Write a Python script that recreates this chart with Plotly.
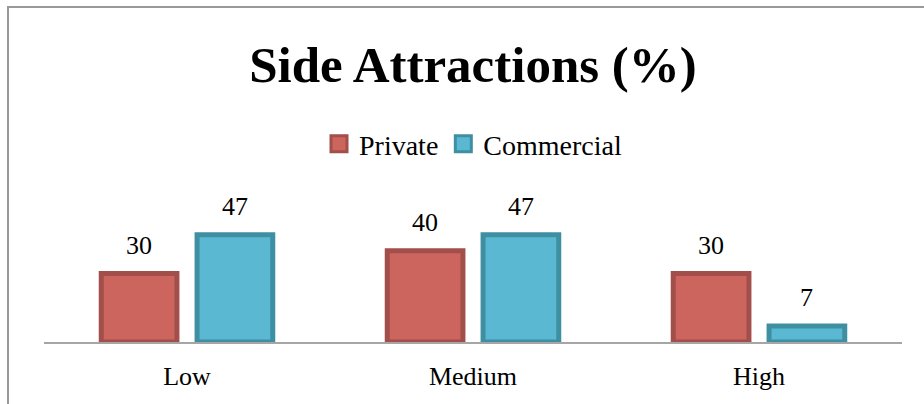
import plotly.graph_objects as go

# Chart data
categories = ["Low", "Medium", "High"]
private_vals = [30, 40, 30]
commercial_vals = [47, 47, 7]
series_names = ["Private", "Commercial"]

# Styling
fills = ["#CD655F", "#5BB8D2"]
borders = ["#A24E4A", "#3F8FA3"]
FONT = "Liberation Serif"
BARGAP = 0.33
BARGROUPGAP = 0.21
W, H = 924, 404
ML, MR, MT, MB = 44, 22, 205, 62
YMAX = 60

fig = go.Figure()
for name, vals, fc, bc in zip(series_names, [private_vals, commercial_vals], fills, borders):
    fig.add_trace(go.Bar(
        x=categories, y=vals, name=name, showlegend=False,
        marker=dict(color=fc, line=dict(color=bc, width=5)),
        hoverinfo="x+y",
    ))
    # legend entry with a larger swatch
    fig.add_trace(go.Scatter(
        x=[None], y=[None], mode="markers", name=name,
        marker=dict(symbol="square", size=16, color=fc, line=dict(color=bc, width=3)),
    ))

# value labels above each bar
offset = (1 - BARGAP) / 4
annotations = []
for s, vals in enumerate([private_vals, commercial_vals]):
    for i, v in enumerate(vals):
        annotations.append(dict(
            x=i + (-offset if s == 0 else offset), y=v, xref="x", yref="y",
            text=str(v), showarrow=False, yanchor="bottom", yshift=12,
            font=dict(family=FONT, size=26, color="#000000"),
        ))

plot_h = H - MT - MB
plot_w = W - ML - MR

fig.update_layout(
    width=W, height=H,
    margin=dict(l=ML, r=MR, t=MT, b=MB, pad=0),
    paper_bgcolor="white", plot_bgcolor="white",
    barmode="group", bargap=BARGAP, bargroupgap=BARGROUPGAP,
    title=dict(
        text="<b>Side Attractions (%)</b>",
        font=dict(family=FONT, size=51, color="#000000"),
        x=(ML + plot_w / 2) / W, xanchor="center",
        y=1 - 64 / H, yanchor="middle", yref="container",
    ),
    legend=dict(
        orientation="h", x=0.5, xanchor="center",
        y=(H - MB - 144) / plot_h, yanchor="middle",
        font=dict(family=FONT, size=28, color="#000000"),
        itemsizing="trace", itemwidth=30, tracegroupgap=0,
        bgcolor="rgba(0,0,0,0)",
    ),
    xaxis=dict(
        showline=True, linecolor="#A6A6A6", linewidth=2,
        ticks="", showgrid=False, zeroline=False,
        tickfont=dict(family=FONT, size=26, color="#000000"),
        ticklabelstandoff=10,
    ),
    yaxis=dict(range=[0, YMAX], visible=False, showgrid=False, zeroline=False),
    annotations=annotations,
    shapes=[dict(
        type="rect", xref="paper", yref="paper",
        x0=(8 - ML) / plot_w, x1=(W + 20 - ML) / plot_w,
        y0=(H - MB - (H + 20)) / plot_h, y1=(H - MB - 7) / plot_h,
        line=dict(color="#999999", width=2), fillcolor="rgba(0,0,0,0)", layer="below",
    )],
    showlegend=True,
)

fig.write_html("out.html")
